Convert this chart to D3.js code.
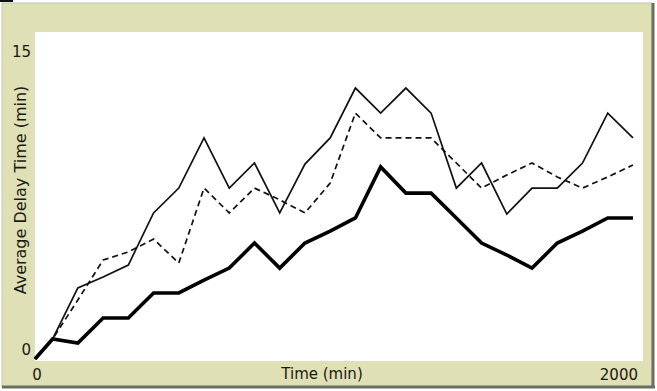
<!DOCTYPE html>
<html>
<head>
<meta charset="utf-8">
<script src="https://cdn.jsdelivr.net/npm/d3@7"></script>
<style>
body { margin:0; background:#ffffff; }
text { font-family:"DejaVu Sans", Verdana, sans-serif; fill:#1a1a10; }
</style>
</head>
<body>
<script>
var times = [0, 58, 141, 224, 307, 390, 473, 556, 639, 722, 805, 888, 971,
	1054, 1137, 1220, 1303, 1386, 1469, 1552, 1635, 1718, 1801, 1884, 1967];

var thinDelay = [0, 0.92, 3.26, 3.76, 4.31, 6.70, 7.84, 10.14, 7.84, 8.99, 6.70, 8.94, 10.14,
	12.43, 11.28, 12.43, 11.28, 7.84, 8.99, 6.65, 7.84, 7.84, 8.99, 11.28, 10.14];

var dashedDelay = [0, 0.92, 2.71, 4.54, 4.91, 5.50, 4.40, 7.84, 6.70, 7.84, 7.30, 6.70, 8.07,
	11.28, 10.14, 10.14, 10.14, 8.99, 7.84, 8.44, 8.99, 8.35, 7.84, 8.35, 8.90];

var thickDelay = [0, 0.92, 0.73, 1.88, 1.88, 3.03, 3.03, 3.62, 4.17, 5.32, 4.17, 5.32, 5.87,
	6.47, 8.81, 7.61, 7.61, 6.47, 5.32, 4.77, 4.17, 5.32, 5.87, 6.47, 6.47];

var xTicks = [0, 2000];
var yTicks = [0, 15];
var xTitle = "Time (min)";
var yTitle = "Average Delay Time (min)";

var svg = d3.select("body")
	.append("svg")
	.attr("width", 657)
	.attr("height", 391);

// frame
svg.append("rect")
	.attr("x", 0).attr("y", 0)
	.attr("width", 657).attr("height", 391)
	.attr("fill", "#ffffff");
svg.append("rect")
	.attr("x", 2).attr("y", 3)
	.attr("width", 650).attr("height", 384)
	.attr("fill", "#e0e0b6")
	.attr("stroke", "#c4c4bc")
	.attr("stroke-width", 1);
svg.append("line")
	.attr("x1", 653).attr("y1", 3).attr("x2", 653).attr("y2", 388)
	.attr("stroke", "#6e6e60").attr("stroke-width", 3);
svg.append("line")
	.attr("x1", 2).attr("y1", 387).attr("x2", 655).attr("y2", 387)
	.attr("stroke", "#6e6e60").attr("stroke-width", 3);
svg.append("rect")
	.attr("x", 0).attr("y", 0)
	.attr("width", 13).attr("height", 2)
	.attr("fill", "#111111");

var x = d3.scaleLinear().domain([0, 2000]).range([35, 643]);
var y = d3.scaleLinear().domain([0, 15]).range([359, 32]);

// plot area
svg.append("rect")
	.attr("x", x(0)).attr("y", y(15))
	.attr("width", x(2000) - x(0)).attr("height", 361 - y(15))
	.attr("fill", "#ffffff");

var line = d3.line()
	.x(function(d, i){ return x(times[i]); })
	.y(function(d){ return y(d); });

svg.append("path")
	.attr("d", line(thinDelay))
	.attr("fill", "none")
	.attr("stroke", "#111111")
	.attr("stroke-width", 1.7);

svg.append("path")
	.attr("d", line(dashedDelay))
	.attr("fill", "none")
	.attr("stroke", "#111111")
	.attr("stroke-width", 1.7)
	.attr("stroke-dasharray", "6,4");

svg.append("path")
	.attr("d", line(thickDelay))
	.attr("fill", "none")
	.attr("stroke", "#000000")
	.attr("stroke-width", 3.6)
	.attr("stroke-linejoin", "miter");

// labels
svg.selectAll(".xt").data(xTicks)
	.enter().append("text")
	.attr("class", "xt")
	.attr("x", function(d){ return d == 0 ? x(d) + 2 : x(d) - 5; })
	.attr("y", 380)
	.attr("text-anchor", function(d){ return d == 0 ? "middle" : "end"; })
	.attr("font-size", 15)
	.text(function(d){ return d; });

svg.selectAll(".yt").data(yTicks)
	.enter().append("text")
	.attr("class", "yt")
	.attr("x", 31)
	.attr("y", function(d){ return d == 0 ? 355 : 57; })
	.attr("text-anchor", "end")
	.attr("font-size", 15)
	.text(function(d){ return d; });

svg.append("text")
	.attr("x", 322)
	.attr("y", 379)
	.attr("text-anchor", "middle")
	.attr("font-size", 15)
	.text(xTitle);

svg.append("text")
	.attr("transform", translate(26, 190) + " rotate(-90)")
	.attr("text-anchor", "middle")
	.attr("font-size", 16)
	.text(yTitle);

function translate(x,y){
	return "translate("+x+","+y+")";
}
</script>
</body>
</html>
